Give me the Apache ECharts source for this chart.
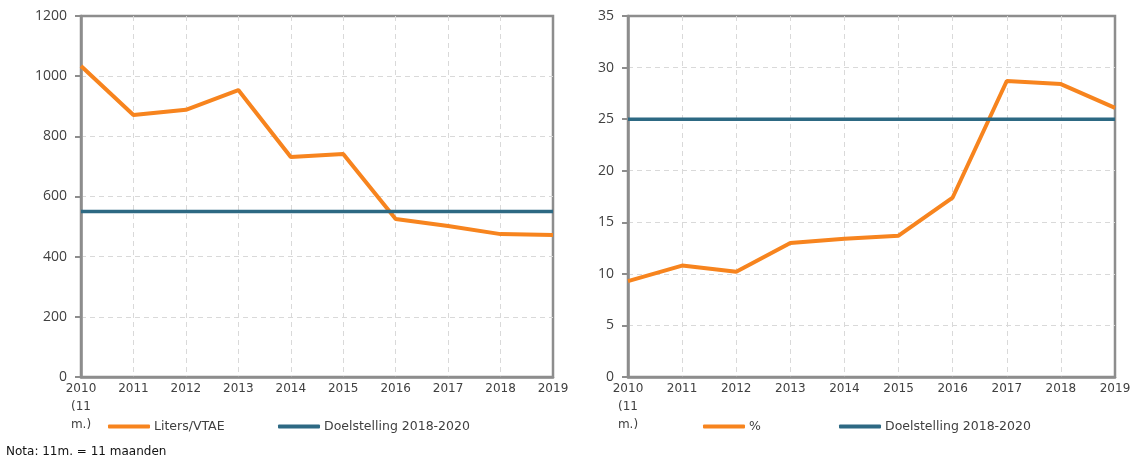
<!DOCTYPE html>
<html>
<head>
<meta charset="utf-8">
<script src="https://cdn.jsdelivr.net/npm/echarts@6/dist/echarts.min.js"></script>
<style>
  html, body { margin: 0; padding: 0; background: #fff; }
  #chart { width: 1137px; height: 464px; }
</style>
</head>
<body>
<div id="chart"></div>
<script>
const years = ['2010\n(11\nm.)', '2011', '2012', '2013', '2014', '2015', '2016', '2017', '2018', '2019']
const litersVtae = [1034, 871, 888, 954, 731, 741, 525, 502, 475, 472]
const litersTarget = [550, 550, 550, 550, 550, 550, 550, 550, 550, 550]
const percent = [9.3, 10.8, 10.2, 13.0, 13.4, 13.7, 17.4, 28.7, 28.4, 26.1]
const percentTarget = [25, 25, 25, 25, 25, 25, 25, 25, 25, 25]

const ORANGE = '#F7841E'
const BLUE = '#2D6983'
const AXIS = '#8d8d8d'
const FONT = 'DejaVu Sans'
const TEXT = '#404040'
const GRIDLINE = { show: true, showMaxLine: false, showMinLine: false, lineStyle: { color: '#d9d9d9', type: [5, 4] } }

const chart = echarts.init(document.getElementById('chart'))

function xAxis(gridIndex) {
  return {
    type: 'category',
    gridIndex,
    data: years,
    boundaryGap: false,
    axisLine: { lineStyle: { color: AXIS, width: 2.5 } },
    axisTick: { show: false },
    axisLabel: { color: TEXT, fontFamily: FONT, fontSize: 12, margin: 3, lineHeight: 18, interval: 0 },
    splitLine: GRIDLINE
  }
}

function yAxis(gridIndex, max, interval) {
  return {
    type: 'value',
    gridIndex,
    min: 0,
    max,
    interval,
    axisLine: { show: true, lineStyle: { color: AXIS, width: 2.5 } },
    axisTick: { show: true, length: 6, lineStyle: { color: AXIS, width: 2 } },
    axisLabel: { color: TEXT, fontFamily: 'Open Sans', fontSize: 14, margin: 14, formatter: v => String(v) },
    splitLine: GRIDLINE
  }
}

function legend(name, left) {
  return {
    data: [name],
    left,
    top: 415,
    itemWidth: 42,
    itemHeight: 4,
    icon: 'roundRect',
    itemGap: 0,
    textStyle: { color: TEXT, fontFamily: FONT, fontSize: 12.5, padding: [0, 0, 0, -1] }
  }
}

function line(name, data, xi, color, width) {
  return {
    name,
    type: 'line',
    xAxisIndex: xi,
    yAxisIndex: xi,
    data,
    symbol: 'none',
    color,
    lineStyle: { color, width }
  }
}

const option = {
  animation: false,
  grid: [
    { left: 81, top: 16, width: 472, height: 361, show: true, borderColor: AXIS, borderWidth: 2.5 },
    { left: 628, top: 16, width: 487, height: 361, show: true, borderColor: AXIS, borderWidth: 2.5 }
  ],
  xAxis: [xAxis(0), xAxis(1)],
  yAxis: [yAxis(0, 1200, 200), yAxis(1, 35, 5)],
  legend: [
    legend('Liters/VTAE', 103),
    legend('Doelstelling 2018-2020', 273),
    legend('%', 698),
    legend('Doelstelling 2018-2020 ', 834)
  ],
  series: [
    line('Liters/VTAE', litersVtae, 0, ORANGE, 4),
    line('Doelstelling 2018-2020', litersTarget, 0, BLUE, 3.5),
    line('%', percent, 1, ORANGE, 4),
    line('Doelstelling 2018-2020 ', percentTarget, 1, BLUE, 3.5)
  ],
  graphic: [
    {
      type: 'text',
      left: 6,
      top: 446,
      style: { text: 'Nota: 11m. = 11 maanden', fill: '#111', font: '12px "DejaVu Sans"' }
    }
  ]
}

chart.setOption(option)
</script>
</body>
</html>
